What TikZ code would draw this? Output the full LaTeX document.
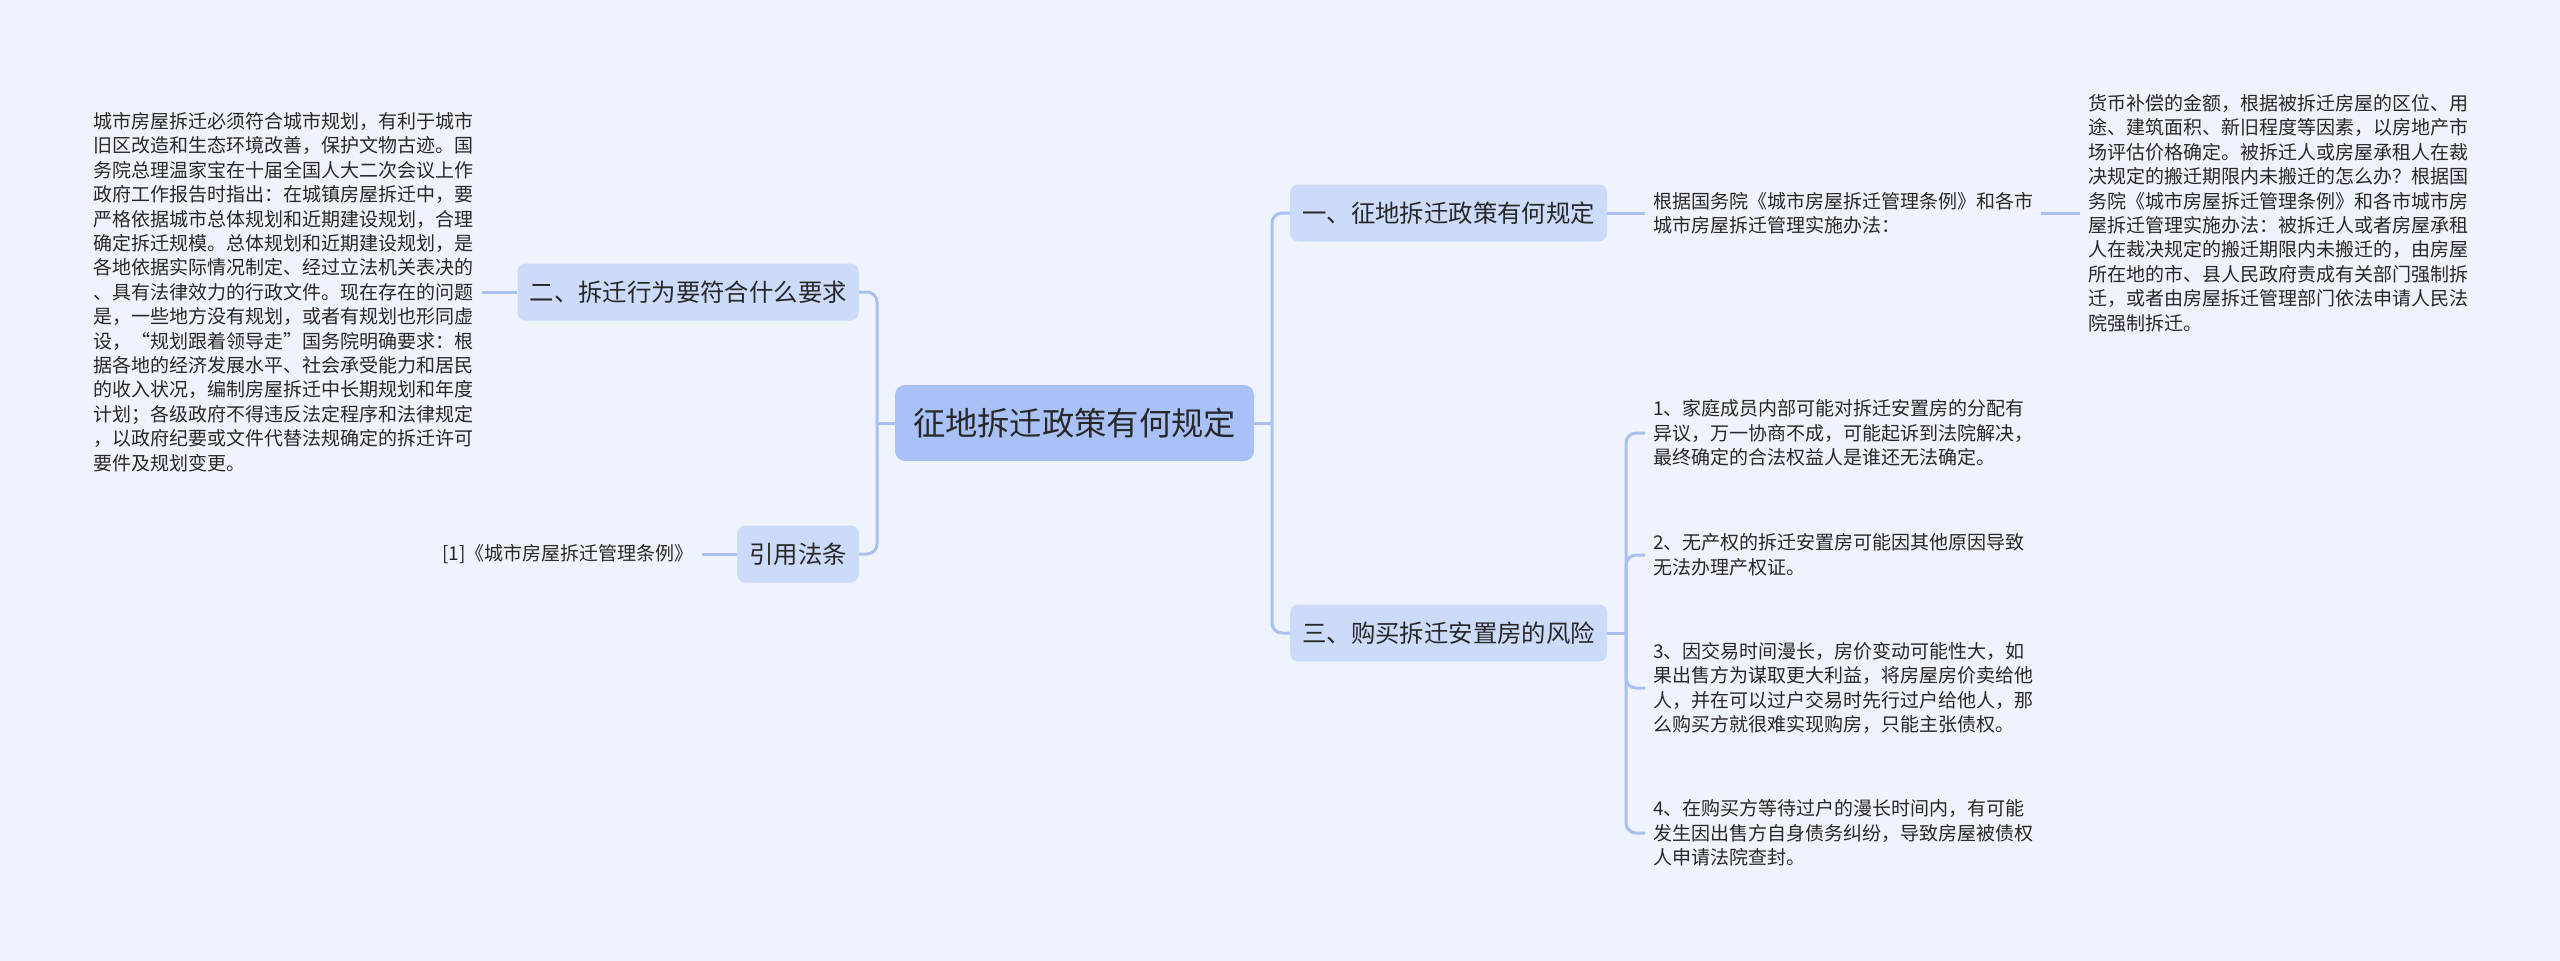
\documentclass[tikz,border=0pt]{standalone}
\usepackage{fontspec}
\setmainfont{Noto Sans CJK SC}
\definecolor{bgc}{RGB}{239,243,252}
\definecolor{lvlc}{RGB}{204,219,250}
\definecolor{rootc}{RGB}{170,193,247}
\definecolor{linec}{RGB}{170,192,243}
\definecolor{txt}{RGB}{40,40,40}
\tikzset{
  conn/.style={draw=linec, line width=3pt, rounded corners=10pt},
  lvlone/.style={fill=lvlc, rounded corners=8pt, inner xsep=12pt, inner ysep=0pt, minimum height=57pt, font=\fontsize{24.4}{29}\selectfont, text=txt},
  rootbox/.style={fill=rootc, rounded corners=10pt, inner xsep=18pt, inner ysep=0pt, minimum height=76pt, font=\fontsize{32.3}{38}\selectfont, text=txt},
  leaf/.style={align=left, inner xsep=8pt, inner ysep=3pt, font=\fontsize{19}{24.4}\selectfont, text=txt},
}
\begin{document}
\begin{tikzpicture}[x=1pt,y=-1pt]
\fill[bgc] (0,0) rectangle (2560,961);
\useasboundingbox (0,0) rectangle (2560,961);

% root
\node[rootbox] (root) at (1074.5,423) {征地拆迁政策有何规定};

% level one
\node[lvlone, anchor=west] (n1) at (1290,213) {一、征地拆迁政策有何规定};
\node[lvlone, anchor=west] (n3) at (1290,633) {三、购买拆迁安置房的风险};
\node[lvlone, anchor=east] (n2) at (859,292) {二、拆迁行为要符合什么要求};
\node[lvlone, anchor=east] (n4) at (859,554) {引用法条};

% spines
\coordinate (sR) at (1272,423);
\coordinate (sL) at (877,423);
\coordinate (s3) at (1626,633);

% leaves right
\node[leaf, anchor=west] (r1) at (1645,213) {根据国务院《城市房屋拆迁管理条例》和各市\\城市房屋拆迁管理实施办法：};
\node[leaf, anchor=west] (r2) at (2080,213) {货币补偿的金额，根据被拆迁房屋的区位、用\\途、建筑面积、新旧程度等因素，以房地产市\\场评估价格确定。被拆迁人或房屋承租人在裁\\决规定的搬迁期限内未搬迁的怎么办？根据国\\务院《城市房屋拆迁管理条例》和各市城市房\\屋拆迁管理实施办法：被拆迁人或者房屋承租\\人在裁决规定的搬迁期限内未搬迁的，由房屋\\所在地的市、县人民政府责成有关部门强制拆\\迁，或者由房屋拆迁管理部门依法申请人民法\\院强制拆迁。};

\node[leaf, anchor=west] (t1) at (1645,433) {1、家庭成员内部可能对拆迁安置房的分配有\\异议，万一协商不成，可能起诉到法院解决，\\最终确定的合法权益人是谁还无法确定。};
\node[leaf, anchor=west] (t2) at (1645,555) {2、无产权的拆迁安置房可能因其他原因导致\\无法办理产权证。};
\node[leaf, anchor=west] (t3) at (1645,688) {3、因交易时间漫长，房价变动可能性大，如\\果出售方为谋取更大利益，将房屋房价卖给他\\人，并在可以过户交易时先行过户给他人，那\\么购买方就很难实现购房，只能主张债权。};
\node[leaf, anchor=west] (t4) at (1645,833) {4、在购买方等待过户的漫长时间内，有可能\\发生因出售方自身债务纠纷，导致房屋被债权\\人申请法院查封。};

% leaves left
\node[leaf, anchor=east] (lt) at (482,292) {城市房屋拆迁必须符合城市规划，有利于城市\\旧区改造和生态环境改善，保护文物古迹。国\\务院总理温家宝在十届全国人大二次会议上作\\政府工作报告时指出：在城镇房屋拆迁中，要\\严格依据城市总体规划和近期建设规划，合理\\确定拆迁规模。总体规划和近期建设规划，是\\各地依据实际情况制定、经过立法机关表决的\\、具有法律效力的行政文件。现在存在的问题\\是，一些地方没有规划，或者有规划也形同虚\\设，“规划跟着领导走”国务院明确要求：根\\据各地的经济发展水平、社会承受能力和居民\\的收入状况，编制房屋拆迁中长期规划和年度\\计划；各级政府不得违反法定程序和法律规定\\，以政府纪要或文件代替法规确定的拆迁许可\\要件及规划变更。};
\node[leaf, anchor=east] (ref) at (702,554) {[1]《城市房屋拆迁管理条例》};

% connectors
\draw[conn] (root.east) -- (sR);
\draw[conn] (sR) |- (n1.west);
\draw[conn] (sR) |- (n3.west);
\draw[conn] (root.west) -- (sL);
\draw[conn] (sL) |- (n2.east);
\draw[conn] (sL) |- (n4.east);

\draw[conn] (n1.east) -- (r1.west);
\draw[conn] (r1.east) -- (r2.west);

\draw[conn] (n3.east) -- (s3);
\draw[conn] (s3) |- (t1.west);
\draw[conn] (s3) |- (t2.west);
\draw[conn] (s3) |- (t3.west);
\draw[conn] (s3) |- (t4.west);

\draw[conn] (n2.west) -- (lt.east);
\draw[conn] (n4.west) -- (ref.east);
\end{tikzpicture}
\end{document}
